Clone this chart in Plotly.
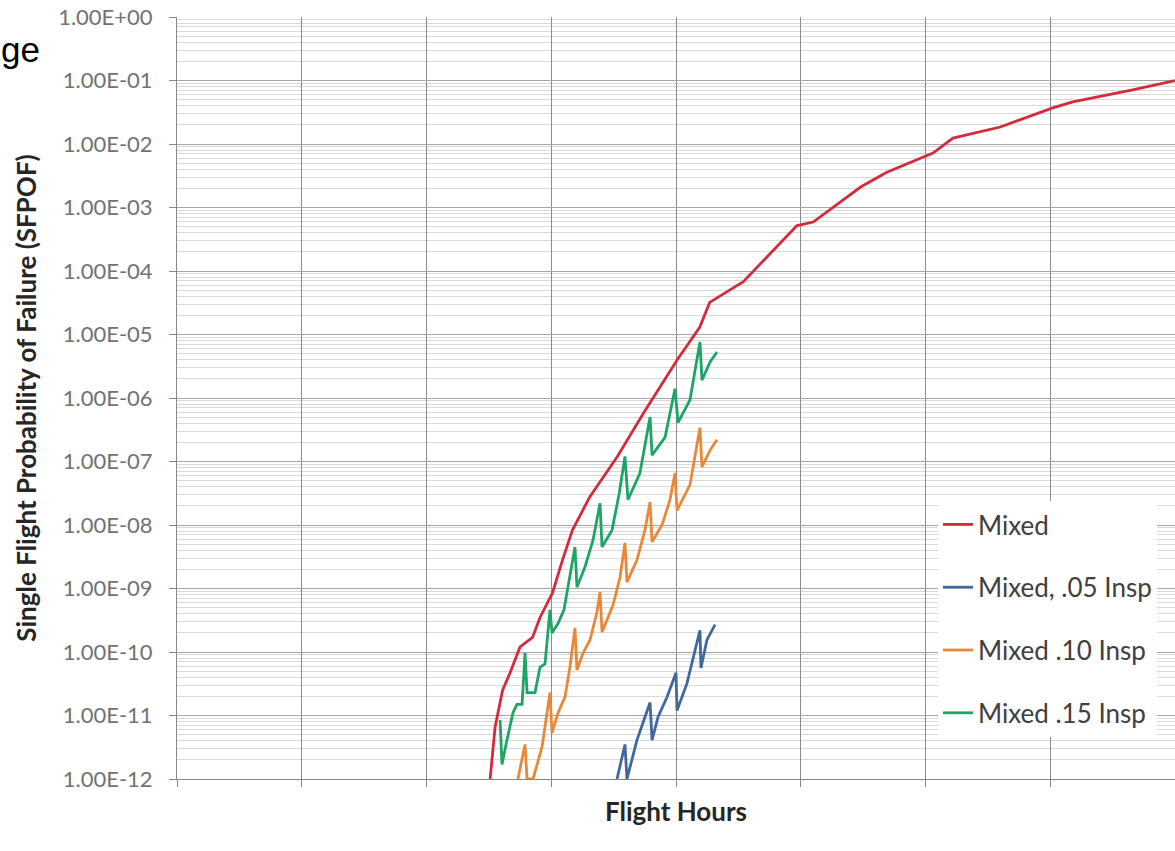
import plotly.graph_objects as go

# ---- data (flight hours, SFPOF) ----
mixed_x = [2510, 2550, 2610, 2670, 2750, 2850, 2910, 3010, 3090, 3170, 3310, 3530, 3740,
           4010, 4190, 4270, 4540, 4970, 5100, 5480, 5690, 6060, 6220, 6600, 7020, 7180,
           7660, 8000]
mixed_y = [1.0e-12, 6.6e-12, 2.5e-11, 4.7e-11, 1.2e-10, 1.7e-10, 3.5e-10, 8.5e-10, 2.8e-9,
           8.3e-9, 2.8e-8, 1.2e-7, 5.8e-7, 4.0e-6, 1.3e-5, 3.2e-5, 6.8e-5, 5.2e-4, 5.9e-4,
           2.1e-3, 3.6e-3, 7.2e-3, 1.24e-2, 1.85e-2, 3.7e-2, 4.6e-2, 7.1e-2, 1.0e-1]

insp05_x = [3527, 3591, 3607, 3687, 3792, 3808, 3856, 3928, 4000, 4008, 4088, 4192, 4200,
            4248, 4313]
insp05_y = [1.0e-12, 3.5e-12, 1.0e-12, 4.1e-12, 1.6e-11, 4.1e-12, 9.5e-12, 1.95e-11,
            4.7e-11, 1.2e-11, 3.2e-11, 2.2e-10, 5.6e-11, 1.55e-10, 2.7e-10]

insp10_x = [2733, 2758, 2790, 2806, 2854, 2926, 2966, 2990, 3006, 3054, 3110, 3150, 3190,
            3206, 3255, 3311, 3367, 3391, 3407, 3495, 3551, 3591, 3607, 3687, 3751, 3792,
            3808, 3888, 3952, 3992, 4008, 4112, 4192, 4208, 4273, 4329]
insp10_y = [1.0e-12, 1.7e-12, 3.5e-12, 1.0e-12, 1.0e-12, 3.2e-12, 1.1e-11, 2.3e-11, 5.3e-12,
            1.1e-11, 1.95e-11, 5.8e-11, 2.4e-10, 5.2e-11, 9.6e-11, 1.55e-10, 4.3e-10, 8.8e-10,
            2.05e-10, 5.5e-10, 1.5e-9, 5.2e-9, 1.26e-9, 2.8e-9, 8.3e-9, 2.3e-8, 5.4e-9,
            1.0e-8, 2.5e-8, 6.6e-8, 1.7e-8, 4.3e-8, 3.4e-7, 8.2e-8, 1.5e-7, 2.2e-7]

insp15_x = [2590, 2605, 2645, 2693, 2725, 2766, 2790, 2806, 2870, 2910, 2950, 2990, 3006,
            3054, 3102, 3150, 3190, 3206, 3271, 3335, 3391, 3407, 3487, 3543, 3591, 3615,
            3711, 3792, 3808, 3912, 3992, 4016, 4112, 4192, 4208, 4273, 4329]
insp15_y = [8.5e-12, 1.7e-12, 4.1e-12, 1.1e-11, 1.5e-11, 1.5e-11, 9.6e-11, 2.3e-11, 2.3e-11,
            5.8e-11, 6.5e-11, 4.6e-10, 2.0e-10, 2.8e-10, 4.6e-10, 1.6e-9, 4.5e-9, 1.05e-9,
            2.2e-9, 5.8e-9, 2.2e-8, 4.5e-9, 8.3e-9, 3.0e-8, 1.2e-7, 2.5e-8, 6.6e-8, 5.0e-7,
            1.26e-7, 2.4e-7, 1.4e-6, 4.1e-7, 9.3e-7, 7.6e-6, 1.9e-6, 3.7e-6, 5.3e-6]

series_names = ["Mixed", "Mixed, .05 Insp", "Mixed .10 Insp", "Mixed .15 Insp"]
series_colors = ["#D42B3C", "#41689C", "#E8893A", "#1EA566"]

y_tickvals = [1e-12, 1e-11, 1e-10, 1e-9, 1e-8, 1e-7, 1e-6, 1e-5, 1e-4, 1e-3, 1e-2, 1e-1, 1e0]
y_ticktext = ["1.00E-12", "1.00E-11", "1.00E-10", "1.00E-09", "1.00E-08", "1.00E-07",
              "1.00E-06", "1.00E-05", "1.00E-04", "1.00E-03", "1.00E-02", "1.00E-01",
              "1.00E+00"]

fig = go.Figure()
all_x = [mixed_x, insp05_x, insp10_x, insp15_x]
all_y = [mixed_y, insp05_y, insp10_y, insp15_y]
for i in range(4):
    fig.add_trace(go.Scatter(
        x=all_x[i], y=all_y[i], mode="lines", name=series_names[i],
        legendgroup=f"g{i}",
        line=dict(color=series_colors[i], width=2.8),
    ))

fig.update_layout(
    width=1175, height=851,
    margin=dict(l=177, r=0, t=17, b=72, autoexpand=False),
    paper_bgcolor="white", plot_bgcolor="white",
    showlegend=True,
    legend=dict(
        x=0.7625, y=0.3648, xanchor="left", yanchor="top",
        bgcolor="white", borderwidth=0,
        font=dict(family="Lato", size=26, color="#404040"),
        tracegroupgap=26,
    ),
    annotations=[dict(
        text="ge", xref="paper", yref="paper", x=-0.1785, y=0.9580,
        xanchor="left", yanchor="middle", showarrow=False,
        font=dict(family="Liberation Sans", size=35, color="black"),
    )],
)

fig.update_xaxes(
    range=[0, 8000], dtick=1000, tick0=0,
    showticklabels=False, ticks="outside", ticklen=7, tickcolor="#888888",
    showgrid=True, gridcolor="#8c8c8c", gridwidth=1,
    showline=True, linecolor="#888888", linewidth=1,
    zeroline=False,
    title=dict(text="<b>Flight Hours</b>", standoff=16,
               font=dict(family="Lato", size=26, color="#262626")),
)

fig.update_yaxes(
    type="log", range=[-12, 0],
    tickvals=y_tickvals, ticktext=y_ticktext,
    tickfont=dict(family="Lato", size=22, color="#727272"),
    ticks="outside", ticklen=7, tickcolor="#888888",
    ticklabelstandoff=12,
    showgrid=True, gridcolor="#a6a6a6", gridwidth=1,
    minor=dict(dtick="D1", showgrid=True, gridcolor="#d9d9d9", gridwidth=1, ticks=""),
    showline=True, linecolor="#888888", linewidth=1,
    zeroline=False,
    title=dict(text="<b>Single Flight Probability of Failure (SFPOF)</b>", standoff=14,
               font=dict(family="Lato", size=26, color="#262626")),
)

fig.write_html("out.html")
